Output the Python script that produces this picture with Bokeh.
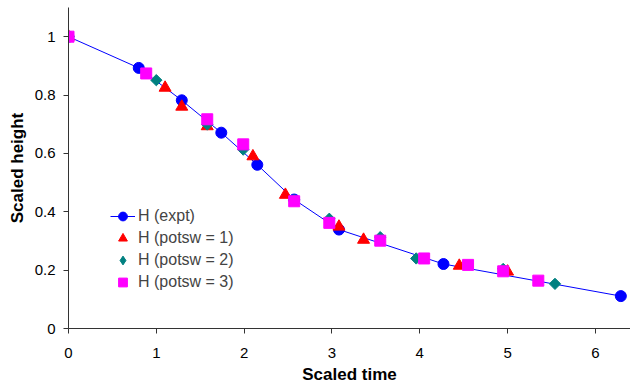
from bokeh.plotting import figure
from bokeh.models import Range1d, Legend, LegendItem, FixedTicker
from bokeh.embed import file_html
from bokeh.resources import INLINE

# Data
expt_t = [0.0, 0.80, 1.29, 1.74, 2.15, 2.57, 3.08, 4.27, 6.29]
expt_h = [1.0, 0.893, 0.782, 0.671, 0.561, 0.442, 0.339, 0.221, 0.111]

p1_t = [0.0, 1.10, 1.29, 1.58, 2.10, 2.47, 3.08, 3.36, 4.45, 5.00]
p1_h = [1.0, 0.825, 0.760, 0.693, 0.590, 0.458, 0.349, 0.304, 0.215, 0.195]

p2_t = [0.0, 1.00, 1.58, 1.99, 2.57, 2.97, 3.55, 3.96, 4.95, 5.54]
p2_h = [1.0, 0.851, 0.699, 0.613, 0.440, 0.376, 0.313, 0.240, 0.204, 0.153]

p3_t = [0.0, 0.885, 1.58, 1.99, 2.57, 2.97, 3.55, 4.05, 4.55, 4.95, 5.35]
p3_h = [1.0, 0.874, 0.717, 0.631, 0.436, 0.362, 0.301, 0.240, 0.218, 0.196, 0.164]

x_ticks = [0, 1, 2, 3, 4, 5, 6]
y_ticks = [0, 0.2, 0.4, 0.6, 0.8, 1]

FONT = "Liberation Sans"

p = figure(width=630, height=387, output_backend="svg", toolbar_location=None,
           x_range=Range1d(0, 6.4), y_range=Range1d(0, 1.1),
           min_border_left=68, min_border_right=0, min_border_top=7, min_border_bottom=59)
p.grid.visible = False
p.outline_line_color = None
p.background_fill_color = "white"

for ax in (p.xaxis, p.yaxis):
    ax.axis_line_color = "#333333"
    ax.major_tick_line_color = "#333333"
    ax.major_tick_out = 5
    ax.major_tick_in = 0
    ax.minor_tick_line_color = None
    ax.major_label_text_font = FONT
    ax.major_label_text_font_size = "15px"
    ax.major_label_text_color = "black"
    ax.axis_label_text_font = FONT
    ax.axis_label_text_font_style = "bold"
    ax.axis_label_text_font_size = "17px"
    ax.axis_label_text_color = "black"

p.xaxis.ticker = FixedTicker(ticks=x_ticks)
p.yaxis.ticker = FixedTicker(ticks=y_ticks)
p.yaxis.major_label_overrides = {0: "0", 0.2: "0.2", 0.4: "0.4", 0.6: "0.6", 0.8: "0.8", 1: "1"}
p.xaxis.axis_label = "Scaled time"
p.yaxis.axis_label = "Scaled height"
p.xaxis.major_label_standoff = 14
p.yaxis.major_label_standoff = 8
p.xaxis.axis_label_standoff = 4
p.yaxis.axis_label_standoff = 5

l0 = p.line(expt_t, expt_h, line_color="#0000FF", line_width=1)
c0 = p.scatter(expt_t, expt_h, marker="circle", size=11, fill_color="#0000FF", line_color="#0000FF")
r1 = p.scatter(p1_t, p1_h, marker="triangle", size=12, fill_color="#FF0000", line_color="#FF0000")
r2 = p.scatter(p2_t, p2_h, marker="square", size=8, angle=0.785398, fill_color="#008080", line_color="#008080")
r3 = p.scatter(p3_t, p3_h, marker="square", size=11, fill_color="#FF00FF", line_color="#FF00FF")
# legend proxy for the rhombus marker (legend glyphs ignore angle)
r2_proxy = p.scatter([float("nan")], [float("nan")], marker="diamond", size=12,
                     fill_color="#008080", line_color="#008080")

legend = Legend(items=[
    LegendItem(label="H (expt)", renderers=[l0, c0]),
    LegendItem(label="H (potsw = 1)", renderers=[r1]),
    LegendItem(label="H (potsw = 2)", renderers=[r2_proxy]),
    LegendItem(label="H (potsw = 3)", renderers=[r3]),
], location=(42, 35))
legend.padding = 0
legend.margin = 0
legend.spacing = 0
legend.label_height = 22
legend.glyph_height = 22
legend.glyph_width = 25
legend.label_standoff = 3
legend.label_text_font = FONT
legend.label_text_font_size = "16px"
legend.background_fill_alpha = 0
legend.border_line_alpha = 0
p.add_layout(legend)

open("out.html", "w").write(file_html(p, INLINE))
